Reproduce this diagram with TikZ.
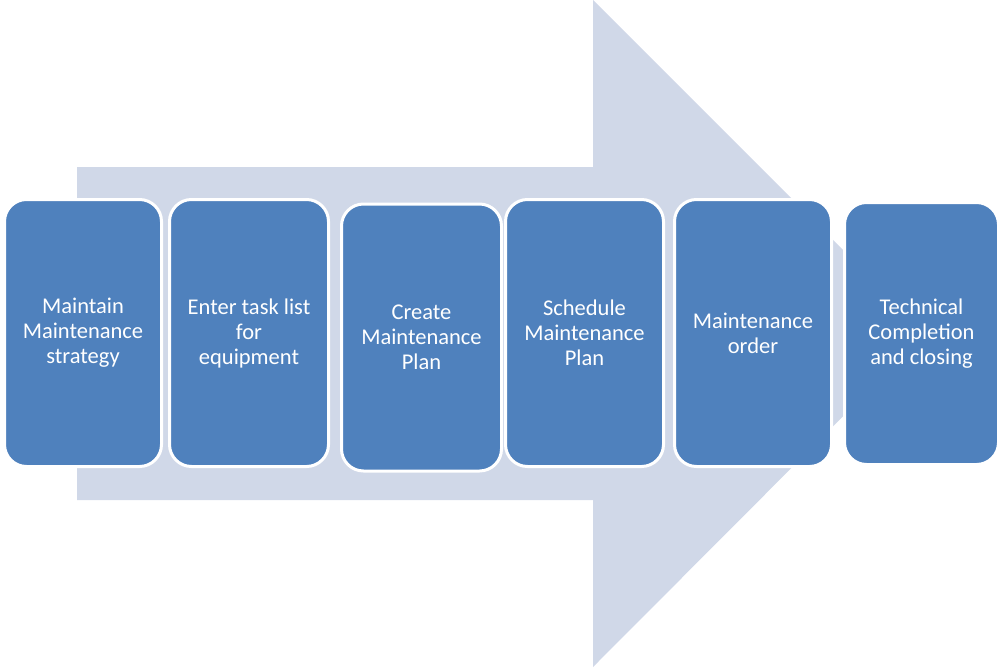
\documentclass[tikz,border=0pt]{standalone}
\usepackage{fontspec}
\setmainfont{Carlito}
\usetikzlibrary{positioning}
\definecolor{StepBlue}{HTML}{4F81BD}
\definecolor{ArrowGrey}{HTML}{D0D8E8}

\begin{document}
\begin{tikzpicture} [
			x=1pt,y=-1pt,
			every node/.style={align=center,rectangle},
			stepbox/.style={draw=white,line width=3pt,fill=StepBlue,rounded corners=22pt,text=white,
				minimum width=157pt,minimum height=267pt,inner sep=0pt,font=\fontsize{22.5}{25}\selectfont}
		]
		\useasboundingbox (0,0) rectangle (1004,667);

		% big arrow behind the steps
		\fill[ArrowGrey] (77,167) -- (593,167) -- (593,0) -- (926,333) -- (593,667) -- (593,500) -- (77,500) -- cycle;

		\node [stepbox] (strategy) at (83,333) {
			Maintain \\ Maintenance \\ strategy
		};
		\node [stepbox, minimum width=159pt] (tasklist) at (249,333) {
			Enter task list \\ for \\ equipment
		};
		\node [stepbox, minimum width=160pt] (plan) at (421.5,337.5) {
			Create \\ Maintenance \\ Plan
		};
		\node [stepbox, minimum width=158pt] (schedule) at (584.5,333) {
			Schedule \\ Maintenance \\ Plan
		};
		\node [stepbox] (order) at (753,333) {
			Maintenance \\ order
		};
		\node [stepbox, minimum width=154pt, minimum height=262pt] (closing) at (921.5,333.5) {
			Technical \\ Completion \\ and closing
		};
	\end{tikzpicture}
\end{document}
